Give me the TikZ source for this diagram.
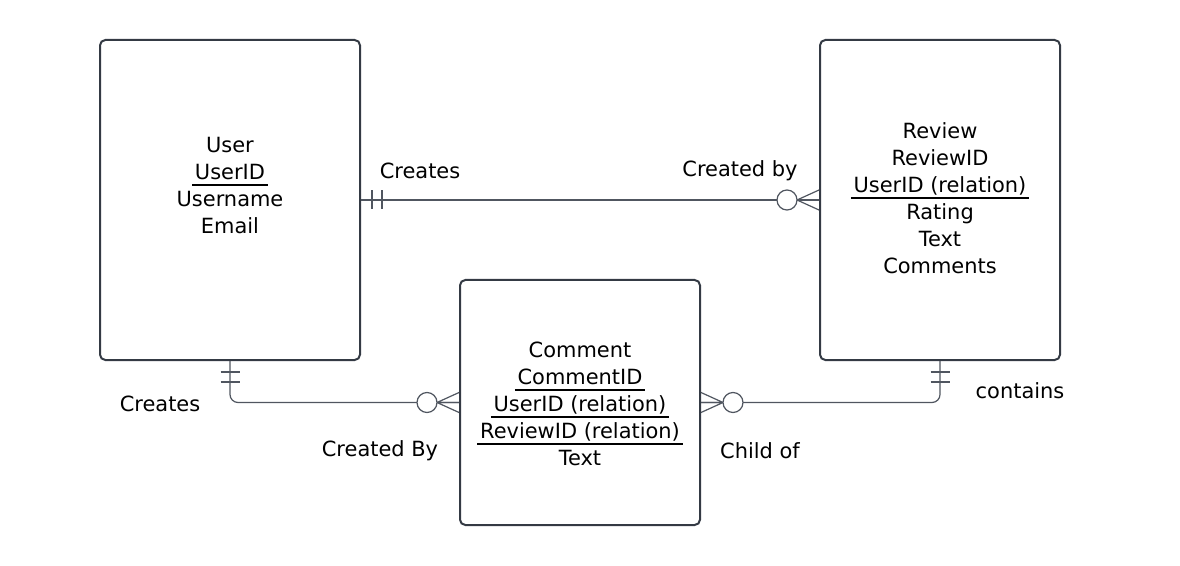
\documentclass[tikz,border=0pt]{standalone}
\usepackage{fontspec}
\setmainfont{DejaVu Sans}
\usepackage{tikz}
\usetikzlibrary{calc,positioning}
\usepackage{xcolor}
\definecolor{boxcol}{RGB}{52,58,68}
\definecolor{relcol}{RGB}{80,86,96}
% underlined key attribute
\newcommand\keyattr[1]{\leavevmode\setbox0\hbox{#1}%
  \rlap{\kern-2pt\raisebox{-4.6pt}{\rule{\dimexpr\wd0+4pt\relax}{1.3pt}}}\box0}
\tikzset{
  % entity box
  entity/.style={rectangle, rounded corners=4pt, draw=boxcol, line width=1.5pt,
                 minimum width=#1, minimum height=240pt, inner sep=0pt},
  entity/.default={180pt},
  % attribute list inside an entity
  attrs/.style={align=center, font=\fontsize{15.7}{20.25}\selectfont, inner sep=0pt},
  % relation label
  rellabel/.style={font=\fontsize{15.7}{18}\selectfont, inner sep=0pt},
  % relation line
  rel/.style={draw=relcol, line width=0.9pt},
  % optional end circle
  zerocirc/.style={circle, draw=relcol, line width=0.9pt, fill=white, minimum size=15pt, inner sep=0pt},
}
\begin{document}
\begin{tikzpicture}[x=0.75pt, y=-0.75pt]
  \useasboundingbox (0,0) rectangle (1180,566);
  % entities
  \node[entity=195pt] (user) at (230,200) {};
  \node[entity] (review) at (940,200) {};
  \node[entity, minimum height=183.75pt] (comment) at (580,402.5) {};
  \node[attrs] (userattrs) at (230,186) {User\\\keyattr{UserID}\\Username\\Email};
  \node[attrs] (reviewattrs) at (940,198.5) {Review\\ReviewID\\\keyattr{UserID (relation)}\\Rating\\Text\\Comments};
  \node[attrs] (commentattrs) at (580,404) {Comment\\\keyattr{CommentID}\\\keyattr{UserID (relation)}\\\keyattr{ReviewID (relation)}\\Text};

  % User creates Review
  \draw[rel] (user.east) -- (review.west);
  \draw[rel] ($(user.east)+(11,-9.5)$) -- ++(0,19) ($(user.east)+(21,-9.5)$) -- ++(0,19);
  \draw[rel] ($(review.west)+(-22,0)$) -- ($(review.west)+(0,-10)$)
             ($(review.west)+(-22,0)$) -- (review.west)
             ($(review.west)+(-22,0)$) -- ($(review.west)+(0,10)$);
  \node[zerocirc] (c1) at ($(review.west)+(-32,0)$) {};
  \node[rellabel] (l1) at (420,171) {Creates};
  \node[rellabel] (l2) at (740,171) {Created by};

  % User creates Comment
  \draw[rel, rounded corners=6pt] (user.south) |- (comment.west);
  \draw[rel] ($(user.south)+(-9.5,11)$) -- ++(19,0) ($(user.south)+(-9.5,21)$) -- ++(19,0);
  \draw[rel] ($(comment.west)+(-22,0)$) -- ($(comment.west)+(0,-10)$)
             ($(comment.west)+(-22,0)$) -- (comment.west)
             ($(comment.west)+(-22,0)$) -- ($(comment.west)+(0,10)$);
  \node[zerocirc] (c2) at ($(comment.west)+(-32,0)$) {};
  \node[rellabel] (l3) at (160,404) {Creates};
  \node[rellabel] (l4) at (380,451) {Created By};

  % Review contains Comment
  \draw[rel, rounded corners=6pt] (review.south) |- (comment.east);
  \draw[rel] ($(review.south)+(-9.5,11)$) -- ++(19,0) ($(review.south)+(-9.5,21)$) -- ++(19,0);
  \draw[rel] ($(comment.east)+(22,0)$) -- ($(comment.east)+(0,-10)$)
             ($(comment.east)+(22,0)$) -- (comment.east)
             ($(comment.east)+(22,0)$) -- ($(comment.east)+(0,10)$);
  \node[zerocirc] (c3) at ($(comment.east)+(32,0)$) {};
  \node[rellabel] (l5) at (1020,391) {contains};
  \node[rellabel] (l6) at (760,451) {Child of};
\end{tikzpicture}
\end{document}
